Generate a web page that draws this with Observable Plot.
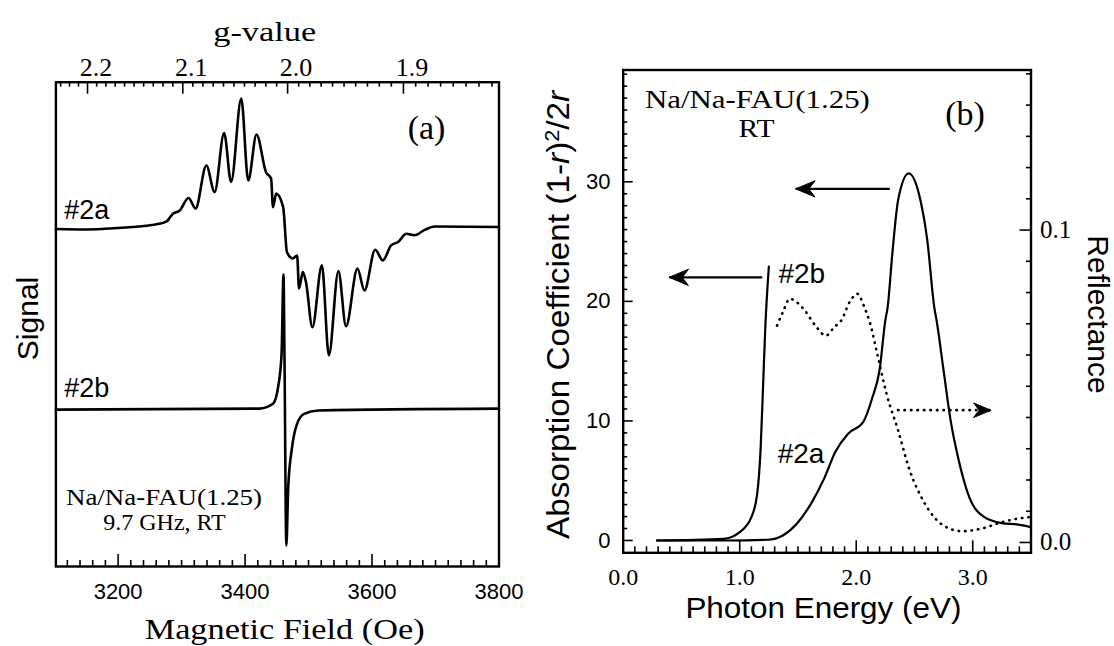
<!DOCTYPE html>
<html><head><meta charset="utf-8">
<script src="https://cdn.jsdelivr.net/npm/d3@7"></script>
<script src="https://cdn.jsdelivr.net/npm/@observablehq/plot@0.6"></script>
<style>
html,body{margin:0;padding:0;background:#fff;}
#wrap{position:relative;width:1114px;height:646px;overflow:hidden;background:#fff;}
#pa,#pb{position:absolute;top:0;}
#pa{left:0;width:540px;}
#pb{left:540px;width:574px;}
svg{overflow:visible;}
</style></head><body>
<div id="wrap"><div id="pa"></div><div id="pb"></div></div>
<script>
// ---------- Panel (a): EPR spectra ----------
const epr2aField  = [3102, 3150, 3200, 3248, 3276, 3286, 3297, 3311, 3322, 3339, 3352, 3367, 3378, 3394, 3405, 3418, 3433, 3441, 3444, 3449, 3460, 3466, 3475, 3482, 3485, 3491, 3496, 3506, 3521, 3532, 3547, 3559, 3577, 3588, 3605, 3617, 3630, 3641, 3654, 3667, 3683, 3699, 3800];
const epr2aSignal = [69.7, 69.6, 69.9, 70.4, 71.2, 72.8, 73.5, 76.1, 73.9, 82.8, 77.3, 89.5, 79.4, 96.6, 79.7, 89.2, 81.4, 80.1, 74.2, 77.0, 74.2, 64.9, 63.6, 64.2, 57.4, 60.8, 58.7, 49.4, 62.2, 43.6, 61.0, 49.6, 61.5, 57.0, 65.4, 63.2, 66.3, 67.0, 68.7, 68.4, 69.5, 70.2, 70.1];
const epr2bField  = [3102, 3422, 3444, 3452, 3457.5, 3460.5, 3462, 3465, 3468, 3474, 3482, 3493, 3515, 3800];
const epr2bSignal = [32.4, 32.6, 33.6, 37.0, 43.9, 60.3, 44.6, 4.3, 16.4, 24.6, 29.5, 31.5, 32.2, 32.6];
const fieldTickLabels = [3200, 3400, 3600, 3800];
const gTickLabels = [2.2, 2.1, 2.0, 1.9];
const gFactor = 6934; // g = gFactor / B(Oe) at 9.7 GHz

// ---------- Panel (b): optical spectra ----------
const abs2bEnergy = [0.29, 0.86, 1.00, 1.10, 1.15, 1.18, 1.20, 1.22, 1.25];
const abs2bValue  = [0.0, 0.14, 0.70, 1.95, 3.9, 7.8, 12.8, 17.9, 22.9];
const abs2aEnergy = [0.29, 0.90, 1.24, 1.37, 1.49, 1.62, 1.73, 1.82, 1.93, 2.06, 2.14, 2.20, 2.25, 2.27, 2.31, 2.36, 2.45, 2.55, 2.61, 2.67, 2.69, 2.75, 2.81, 2.88, 2.97, 3.10, 3.25, 3.38, 3.50];
const abs2aValue  = [0.0, 0.0, 0.06, 0.42, 1.40, 3.21, 5.30, 7.40, 8.93, 9.91, 12.0, 14.24, 18.43, 19.54, 24.0, 28.5, 30.7, 28.5, 25.1, 19.5, 18.4, 14.2, 10.05, 6.7, 3.63, 1.95, 1.45, 1.34, 1.11];
const reflEnergy = [1.32, 1.37, 1.43, 1.49, 1.56, 1.65, 1.74, 1.81, 1.87, 1.95, 2.01, 2.07, 2.12, 2.18, 2.26, 2.36, 2.45, 2.59, 2.75, 2.91, 3.07, 3.25, 3.38, 3.49];
const reflValue  = [0.0694, 0.0737, 0.0780, 0.0769, 0.0742, 0.0694, 0.0662, 0.0689, 0.0710, 0.0774, 0.0796, 0.0753, 0.0700, 0.0604, 0.0476, 0.0358, 0.0241, 0.0124, 0.0054, 0.0036, 0.0044, 0.0065, 0.0076, 0.0081];
const energyTickLabels = [0, 1, 2, 3];
const absTickLabels = [0, 10, 20, 30];
const reflTickLabels = [0, 0.1];
const arrowStartEnergy = [2.288, 1.193];
const arrowEndEnergy   = [1.482, 0.396];
const arrowLevel       = [29.4, 22.0];
const reflArrowStartEnergy = [2.358];
const reflArrowEndEnergy   = [3.154];
const reflArrowLevel       = [10.9];
// reflectance (right axis) expressed on the absorption scale
const reflOffset = -0.167, reflGain = 261.3;
const reflToAbs = r => reflOffset + r * reflGain;

const SERIF = "'Liberation Serif', 'Times New Roman', serif";
const SANS = "'Liberation Sans', Arial, sans-serif";
const T = (font, size, extra) => ({fontFamily: font, fontSize: size, fill: "black", textAnchor: "middle", lineAnchor: "middle", ...extra});

// ---------------- Panel (a) ----------------
const aX = [3102, 3800], aY = [0, 100];
const aM = {l: 55.4, r: 41.5, t: 81.7, b: 80};
const aPxY = (646 - aM.t - aM.b) / (aY[1] - aY[0]);
const aLen = px => px / aPxY;

const eprA = epr2aField.map((f, i) => ({field: f, signal: epr2aSignal[i]}));
const eprB = epr2bField.map((f, i) => ({field: f, signal: epr2bSignal[i]}));
const fieldMinor = d3.range(3120, 3800, 20).filter(d => d % 200 !== 0);
const fieldMajor = fieldTickLabels.filter(d => d < aX[1]);
const gMinor = d3.range(183, 224).map(d => d / 100).filter(g => Math.round(g * 100) % 10 !== 0);

const tickStyle = {stroke: "black", strokeWidth: 1.6};

const panelA = Plot.plot({
  width: 540, height: 646,
  marginLeft: aM.l, marginRight: aM.r, marginTop: aM.t, marginBottom: aM.b,
  x: {domain: aX, axis: null},
  y: {domain: aY, axis: null},
  style: {background: "transparent", overflow: "visible", color: "black"},
  marks: [
    Plot.ruleX(fieldMinor, {x: d => d, y1: aY[0], y2: aY[0] + aLen(6), ...tickStyle}),
    Plot.ruleX(fieldMajor, {x: d => d, y1: aY[0], y2: aY[0] + aLen(12), ...tickStyle}),
    Plot.ruleX(gMinor, {x: g => gFactor / g, y1: aY[1], y2: aY[1] - aLen(5), ...tickStyle}),
    Plot.ruleX(gTickLabels, {x: g => gFactor / g, y1: aY[1], y2: aY[1] - aLen(12), ...tickStyle}),
    Plot.line(eprA, {x: "field", y: "signal", curve: "monotone-x", stroke: "black", strokeWidth: 2.6, strokeLinejoin: "round"}),
    Plot.line(eprB, {x: "field", y: "signal", curve: "monotone-x", stroke: "black", strokeWidth: 2.6, strokeLinejoin: "round"}),
    Plot.frame({stroke: "black", strokeWidth: 2.4}),
    Plot.text(fieldTickLabels, {x: d => d, text: d => String(d), frameAnchor: "bottom", dy: 25.7, ...T(SANS, 22)}),
    Plot.text(gTickLabels, {x: g => gFactor / g, text: g => g.toFixed(1), frameAnchor: "top", dy: -15, dx: 8.5, ...T(SERIF, 26)}),
    Plot.text(["g-value"], {frameAnchor: "top", dx: -12.7, dy: -50, ...T(SERIF, 28)}),
    Plot.text(["Magnetic Field (Oe)"], {frameAnchor: "bottom", dx: 7.2, dy: 63, ...T(SERIF, 30)}),
    Plot.text(["Signal"], {frameAnchor: "left", rotate: -90, dx: -27.9, dy: -5.9, ...T(SANS, 30)}),
    Plot.text(["(a)"], {frameAnchor: "top-right", dx: -72.5, dy: 46, ...T(SERIF, 34)}),
    Plot.text(["#2a"], {frameAnchor: "left", dx: 8.3, dy: -113.9, ...T(SANS, 27, {textAnchor: "start"})}),
    Plot.text(["#2b"], {frameAnchor: "left", dx: 8.3, dy: 64.5, ...T(SANS, 27, {textAnchor: "start"})}),
    Plot.text(["Na/Na-FAU(1.25)"], {frameAnchor: "bottom-left", dx: 108.1, dy: -69.3, ...T(SERIF, 24)}),
    Plot.text(["9.7 GHz, RT"], {frameAnchor: "bottom-left", dx: 108.6, dy: -44.3, ...T(SERIF, 24)})
  ]
});
document.getElementById("pa").appendChild(panelA);

// ---------------- Panel (b) ----------------
const bX = [0, 3.5], bY = [-1.03, 39.35];
const bM = {l: 82.7, r: 83.5, t: 69.5, b: 93.7};
const bPxX = (574 - bM.l - bM.r) / (bX[1] - bX[0]);
const bPxY = (646 - bM.t - bM.b) / (bY[1] - bY[0]);
const bLenX = px => px / bPxX, bLenY = px => px / bPxY;

const abs2a = abs2aEnergy.map((e, i) => ({energy: e, value: abs2aValue[i]}));
const abs2b = abs2bEnergy.map((e, i) => ({energy: e, value: abs2bValue[i]}));
const refl = reflEnergy.map((e, i) => ({energy: e, value: reflToAbs(reflValue[i])}));
const arrows = arrowStartEnergy.map((e, i) => ({x1: e, x2: arrowEndEnergy[i], y: arrowLevel[i]}));
const reflArrows = reflArrowStartEnergy.map((e, i) => ({x1: e, x2: reflArrowEndEnergy[i], y: reflArrowLevel[i]}));

const eMinor = d3.range(1, 35).map(d => d / 10).filter(d => Math.round(d * 10) % 10 !== 0);
const eMajor = energyTickLabels.filter(d => d > 0);
const aMinor = d3.range(1, 40).filter(d => d % 10 !== 0);
const rMinor = d3.range(1, 16).map(d => d / 100).filter(d => Math.round(d * 100) % 10 !== 0);

const headShape = {
  draw(context, l) {
    context.moveTo(0, -l);
    context.lineTo(-l * 0.42, 0);
    context.lineTo(0, -l * 0.32);
    context.lineTo(l * 0.42, 0);
    context.closePath();
  }
};

const panelB = Plot.plot({
  width: 574, height: 646,
  marginLeft: bM.l, marginRight: bM.r, marginTop: bM.t, marginBottom: bM.b,
  x: {domain: bX, axis: null},
  y: {domain: bY, axis: null},
  style: {background: "transparent", overflow: "visible", color: "black"},
  marks: [
    Plot.ruleX(eMinor, {x: d => d, y1: bY[0], y2: bY[0] + bLenY(6), ...tickStyle}),
    Plot.ruleX(eMajor, {x: d => d, y1: bY[0], y2: bY[0] + bLenY(12), ...tickStyle}),
    Plot.ruleY(aMinor, {y: d => d, x1: bX[0], x2: bX[0] + bLenX(4.5), ...tickStyle}),
    Plot.ruleY(absTickLabels, {y: d => d, x1: bX[0], x2: bX[0] + bLenX(10), ...tickStyle}),
    Plot.ruleY(rMinor, {y: reflToAbs, x1: bX[1] - bLenX(4.5), x2: bX[1], ...tickStyle}),
    Plot.ruleY(reflTickLabels, {y: reflToAbs, x1: bX[1] - bLenX(11), x2: bX[1], ...tickStyle}),
    Plot.line(refl, {x: "energy", y: "value", curve: "monotone-x", stroke: "black", strokeWidth: 2.6, strokeDasharray: "0.5,6", strokeLinecap: "round"}),
    Plot.line(abs2a, {x: "energy", y: "value", curve: "monotone-x", stroke: "black", strokeWidth: 2.2}),
    Plot.line(abs2b, {x: "energy", y: "value", curve: "monotone-x", stroke: "black", strokeWidth: 2.2}),
    Plot.link(arrows, {x1: "x1", x2: "x2", y1: "y", y2: "y", stroke: "black", strokeWidth: 2.2}),
    Plot.vector(arrows, {x: "x2", y: "y", rotate: -90, length: 19, anchor: "end", shape: headShape, fill: "black", stroke: "black", strokeWidth: 1}),
    Plot.link(reflArrows, {x1: "x1", x2: "x2", y1: "y", y2: "y", stroke: "black", strokeWidth: 2.6, strokeDasharray: "0.5,6", strokeLinecap: "round"}),
    Plot.vector(reflArrows, {x: "x2", y: "y", rotate: 90, length: 17, anchor: "end", shape: headShape, fill: "black", stroke: "black", strokeWidth: 1}),
    Plot.frame({stroke: "black", strokeWidth: 2.4}),
    Plot.text(energyTickLabels, {x: d => d, text: d => d.toFixed(1), frameAnchor: "bottom", dy: 25, ...T(SERIF, 24)}),
    Plot.text(absTickLabels, {y: d => d, text: d => String(d), frameAnchor: "left", dx: -12.7, ...T(SANS, 22, {textAnchor: "end"})}),
    Plot.text(reflTickLabels, {y: reflToAbs, text: d => d.toFixed(1), frameAnchor: "right", dx: 9, ...T(SERIF, 25, {textAnchor: "start"})}),
    Plot.text(["Photon Energy (eV)"], {frameAnchor: "bottom", dx: -3.7, dy: 55.5, ...T(SANS, 30)}),
    Plot.text(["Absorption Coefficient (1-r)²/2r"], {frameAnchor: "left", rotate: -90, dx: -64.7, dy: 3.5, ...T(SANS, 32)}),
    Plot.text(["Reflectance"], {frameAnchor: "right", rotate: 90, dx: 66.5, dy: 3.1, ...T(SANS, 30)}),
    Plot.text(["Na/Na-FAU(1.25)"], {frameAnchor: "top-left", dx: 134.2, dy: 30, ...T(SERIF, 26)}),
    Plot.text(["RT"], {frameAnchor: "top-left", dx: 133.3, dy: 58.5, ...T(SERIF, 26)}),
    Plot.text(["(b)"], {frameAnchor: "top-right", dx: -65.9, dy: 43.8, ...T(SERIF, 34)}),
    Plot.text(["#2b"], {frameAnchor: "top-left", dx: 155.2, dy: 203.8, ...T(SANS, 28, {textAnchor: "start"})}),
    Plot.text(["#2a"], {frameAnchor: "top-left", dx: 154.5, dy: 383.8, ...T(SANS, 28, {textAnchor: "start"})})
  ]
});
document.getElementById("pb").appendChild(panelB);

// rich formatting of the absorption label (italic r, superscript 2) and
// stretching of the wide scanned titles to their measured lengths
const stretch = {"g-value": 103, "Magnetic Field (Oe)": 280, "Photon Energy (eV)": 276};
const stretchA = {"Na/Na-FAU(1.25)": 196};
const stretchB = {"Na/Na-FAU(1.25)": 225, "RT": 36};
[[panelA, stretchA], [panelB, stretchB]].forEach(([svg, local]) => svg.querySelectorAll("text").forEach(t => {
  const s = t.textContent;
  const len = local[s] || stretch[s];
  if (s === "Absorption Coefficient (1-r)²/2r") {
    t.innerHTML = 'Absorption Coefficient (1-<tspan font-style="italic">r</tspan>)<tspan dy="-0.45em" font-size="0.65em">2</tspan><tspan dy="0.29em">/2</tspan><tspan font-style="italic">r</tspan>';
    t.setAttribute("textLength", 448);
    t.setAttribute("lengthAdjust", "spacingAndGlyphs");
  } else if (len) {
    t.setAttribute("textLength", len);
    t.setAttribute("lengthAdjust", "spacingAndGlyphs");
  }
}));
</script></body></html>
